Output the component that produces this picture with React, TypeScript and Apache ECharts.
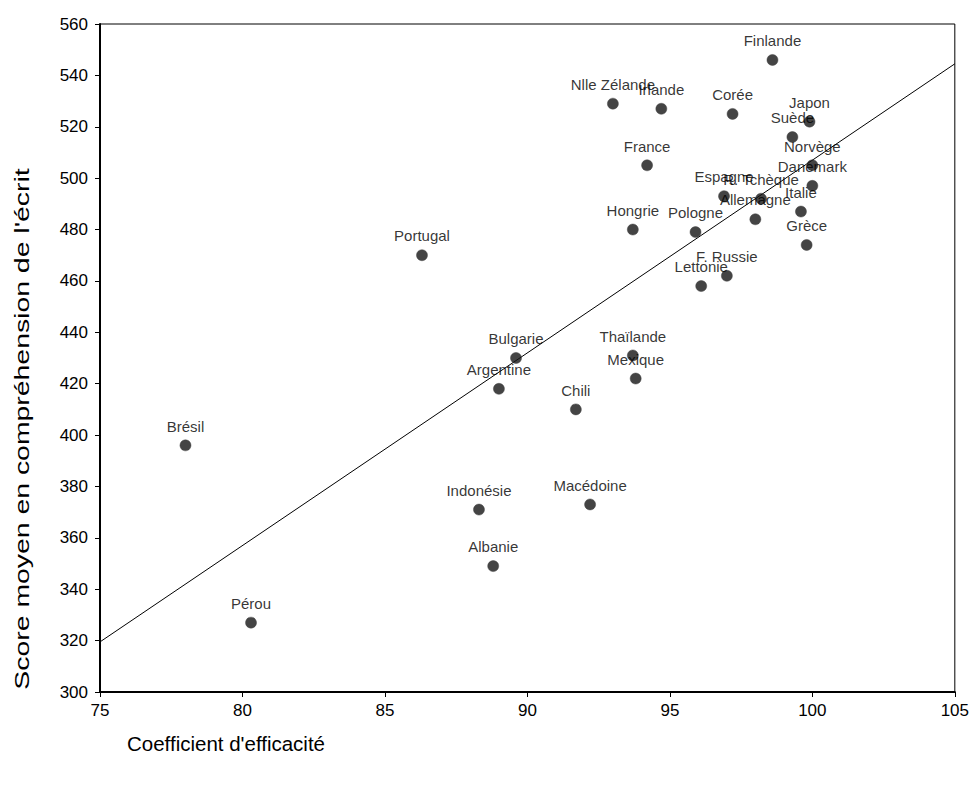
import React, { useEffect, useRef } from "react";
import * as echarts from "echarts";

const countries = [
  "Finlande", "Nlle Zélande", "Irlande", "Corée", "Japon", "Suède", "France", "Norvège",
  "Danemark", "Espagne", "R. Tchèque", "Allemagne", "Italie", "Grèce", "Hongrie", "Pologne",
  "F. Russie", "Lettonie", "Portugal", "Bulgarie", "Thaïlande", "Mexique", "Argentine", "Chili",
  "Brésil", "Indonésie", "Macédoine", "Albanie", "Pérou",
];
const efficiency = [
  98.6, 93.0, 94.7, 97.2, 99.9, 99.3, 94.2, 100.0,
  100.0, 96.9, 98.2, 98.0, 99.6, 99.8, 93.7, 95.9,
  97.0, 96.1, 86.3, 89.6, 93.7, 93.8, 89.0, 91.7,
  78.0, 88.3, 92.2, 88.8, 80.3,
];
const scores = [
  546, 529, 527, 525, 522, 516, 505, 505,
  497, 493, 492, 484, 487, 474, 480, 479,
  462, 458, 470, 430, 431, 422, 418, 410,
  396, 371, 373, 349, 327,
];
const trendX = [75, 105];
const trendY = [319.5, 544.5];

const xTicks = { min: 75, max: 105, interval: 5 };
const yTicks = { min: 300, max: 560, interval: 20 };

const FONT = "'Liberation Sans', Arial, Helvetica, sans-serif";

export default function App() {
  const ref = useRef<HTMLDivElement>(null);
  useEffect(() => {
    if (!ref.current) return;
    const chart = echarts.init(ref.current, null, { renderer: "svg" });
    const points = countries.map((c, i) => ({ name: c, value: [efficiency[i], scores[i]] }));
    chart.setOption({
      animation: false,
      backgroundColor: "#fff",
      textStyle: { fontFamily: FONT },
      grid: {
        left: 100, top: 24, right: 16, bottom: 95,
        show: true, borderColor: "#000", borderWidth: 1, backgroundColor: "transparent",
      },
      xAxis: {
        type: "value",
        min: xTicks.min, max: xTicks.max, interval: xTicks.interval,
        axisLine: { show: true, onZero: false, lineStyle: { color: "#000", width: 2 } },
        axisTick: { show: true, length: 5, lineStyle: { color: "#000", width: 1 } },
        axisLabel: { color: "#000", fontSize: 17, margin: 10, fontFamily: FONT },
        splitLine: { show: false },
      },
      yAxis: {
        type: "value",
        min: yTicks.min, max: yTicks.max, interval: yTicks.interval,
        axisLine: { show: true, onZero: false, lineStyle: { color: "#000", width: 2 } },
        axisTick: { show: true, length: 5, lineStyle: { color: "#000", width: 1 } },
        axisLabel: { color: "#000", fontSize: 17, margin: 12, fontFamily: FONT },
        splitLine: { show: false },
      },
      graphic: [
        {
          type: "text",
          x: 22, y: 429, rotation: Math.PI / 2,
          scaleX: 1.42, scaleY: 1,
          style: {
            text: "Score moyen en compréhension de l'écrit",
            fill: "#000", font: `20px ${FONT}`,
            align: "center", verticalAlign: "middle",
          },
        },
        {
          type: "text",
          x: 127, y: 743,
          style: {
            text: "Coefficient d'efficacité",
            fill: "#000", font: `20.5px ${FONT}`,
            align: "left", verticalAlign: "middle",
          },
        },
      ],
      series: [
        {
          type: "line",
          data: trendX.map((x, i) => [x, trendY[i]]),
          showSymbol: false,
          symbol: "none",
          silent: true,
          lineStyle: { color: "#000", width: 1 },
          z: 1,
        },
        {
          type: "scatter",
          data: points,
          symbol: "circle",
          symbolSize: 11,
          itemStyle: { color: "#151515", borderColor: "#444", borderWidth: 0.6 },
          label: {
            show: true,
            position: "top",
            distance: 6,
            formatter: "{b}",
            color: "#000",
            fontSize: 15,
            fontFamily: FONT,
          },
          labelLayout: { hideOverlap: false },
          z: 3,
        },
      ],
    });
    return () => chart.dispose();
  }, []);
  return (
    <div
      ref={ref}
      style={{ position: "fixed", left: 0, top: 0, width: 972, height: 787, background: "#fff" }}
    />
  );
}
